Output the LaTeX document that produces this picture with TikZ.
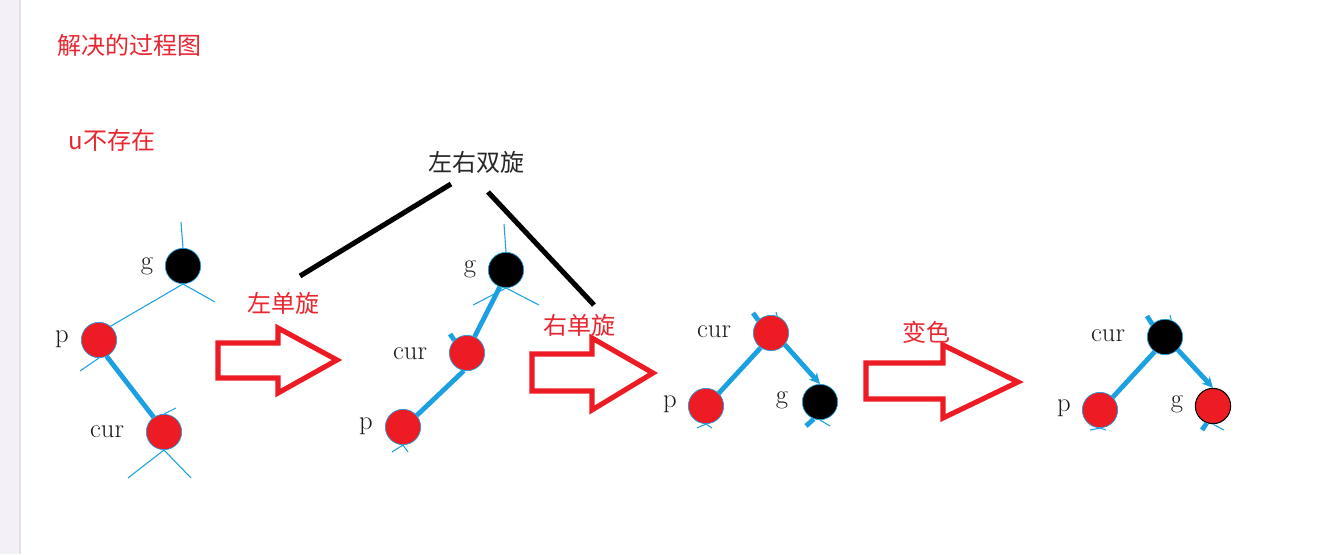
\documentclass[tikz,border=0pt]{standalone}
\usepackage{fontspec}
\newfontfamily\cjk{Noto Sans CJK SC}
\usetikzlibrary{arrows.meta}
\definecolor{tblue}{RGB}{27,161,226}
\definecolor{tred}{RGB}{237,28,36}
\definecolor{txtred}{RGB}{234,38,48}
\definecolor{lav}{RGB}{244,240,247}
\definecolor{lavline}{RGB}{228,222,234}
\begin{document}
\begin{tikzpicture}[x=0.75pt,y=-0.75pt,
  rnode/.style={circle, fill=tred, draw=tblue, line width=0.5pt, minimum size=26.5pt, inner sep=0pt},
  bnode/.style={circle, fill=black, draw=tblue, line width=0.5pt, minimum size=26.5pt, inner sep=0pt},
  rbnode/.style={circle, fill=tred, draw=black, line width=0.8pt, minimum size=26.5pt, inner sep=0pt},
  thinb/.style={draw=tblue, line width=0.8pt},
  thickb/.style={draw=tblue, line width=3.6pt},
  lab/.style={font=\fontsize{20}{22}\selectfont, text=black!90, inner sep=0pt},
  cjklab/.style={font=\cjk\fontsize{18}{21}\selectfont, inner sep=0pt},
  bigarrow/.style={draw=tred, line width=3.8pt, line join=miter},
  blackline/.style={draw=black, line width=3.8pt}
]
\useasboundingbox (0,0) rectangle (1322,554);
\fill[white] (0,0) rectangle (1322,554);
\fill[lav] (0,0) rectangle (20,554);
\draw[lavline, line width=0.8pt] (20,0) -- (20,554);

% titles
\node[cjklab, text=txtred] (title) at (129,45) {解决的过程图};
\node[cjklab, text=txtred] (unone) at (112,140) {u不存在};
\node[cjklab, text=black!85] (lrd) at (476,162) {左右双旋};

% ---------- tree 1 ----------
\node[bnode] (g1) at (183,266) {};
\node[rnode] (p1) at (99,340) {};
\node[rnode] (c1) at (164,432) {};
\node[lab] (g1l) at (147,266) {g};
\node[lab] (p1l) at (62,339) {p};
\node[lab] (c1l) at (107,432) {cur};
\coordinate (g1t) at (181,222);
\coordinate (g1r) at (215,302);
\coordinate (p1b) at (80,371);
\coordinate (c1t) at (176,408);
\coordinate (c1bl) at (128,478);
\coordinate (c1br) at (191,478);
\draw[thinb] (g1t) -- (g1.north);
\draw[thinb] (g1.south) -- (g1r);
\draw[thinb] (g1.south) -- (p1.50);
\draw[thinb] (p1.south) -- (p1b);
\draw[thickb] (p1.-65) -- (c1.125);
\draw[thinb] (c1.north) -- (c1t);
\draw[thinb] (c1.south) -- (c1bl);
\draw[thinb] (c1.south) -- (c1br);

% ---------- tree 2 ----------
\node[bnode] (g2) at (506,270) {};
\node[rnode] (c2) at (467,353) {};
\node[rnode] (p2) at (403,427) {};
\node[lab] (g2l) at (470,269) {g};
\node[lab] (c2l) at (410,354) {cur};
\node[lab] (p2l) at (366,426) {p};
\coordinate (g2t) at (504,224);
\coordinate (g2r) at (539,305);
\coordinate (g2ll) at (473,305);
\coordinate (c2s) at (450,334);
\coordinate (p2bl) at (392,452);
\coordinate (p2br) at (408,452);
\draw[thinb] (g2t) -- (g2.north);
\draw[thinb] (g2.south) -- (g2r);
\draw[thinb] (g2.south) -- (g2ll);
\draw[thickb] (g2.-110) -- (c2.65);
\draw[thickb] (c2s) -- (c2.135);
\draw[thickb] (c2.-100) -- (p2.40);
\draw[thinb] (p2.south) -- (p2bl);
\draw[thinb] (p2.south) -- (p2br);

% ---------- tree 3 ----------
\node[rnode] (c3) at (771,333) {};
\node[rnode] (p3) at (706,406) {};
\node[bnode] (g3) at (820,402) {};
\node[lab] (c3l) at (714,332) {cur};
\node[lab] (p3l) at (670,404) {p};
\node[lab] (g3l) at (782,400) {g};
\coordinate (c3s) at (753,313);
\coordinate (c3tr) at (776,312);
\coordinate (p3bl) at (697,428);
\coordinate (p3br) at (712,428);
\coordinate (g3bl) at (806,426);
\coordinate (g3br) at (830,426);
\draw[thickb] (c3s) -- (c3.135);
\draw[thinb] (c3.70) -- (c3tr);
\draw[thickb] (c3.-125) -- (p3.45);
\draw[thickb, -{Stealth[length=8pt,width=8pt]}] (c3.-40) -- (g3.north);
\draw[thinb] (p3.south) -- (p3bl);
\draw[thinb] (p3.south) -- (p3br);
\draw[thickb] (g3.-110) -- (g3bl);
\draw[thinb] (g3.south) -- (g3br);

% ---------- tree 4 ----------
\node[bnode] (c4) at (1165,337) {};
\node[rnode] (p4) at (1100,410) {};
\node[rbnode] (g4) at (1213,406) {};
\node[lab] (c4l) at (1108,336) {cur};
\node[lab] (p4l) at (1064,408) {p};
\node[lab] (g4l) at (1177,404) {g};
\coordinate (c4s) at (1147,316);
\coordinate (c4tr) at (1170,315);
\coordinate (p4bl) at (1090,430);
\coordinate (p4br) at (1106,430);
\coordinate (g4bl) at (1202,430);
\coordinate (g4br) at (1224,430);
\draw[thickb] (c4s) -- (c4.135);
\draw[thinb] (c4.70) -- (c4tr);
\draw[thickb] (c4.-125) -- (p4.45);
\draw[thickb, -{Stealth[length=8pt,width=8pt]}] (c4.-45) -- (g4.north);
\draw[thinb] (p4.south) -- (p4bl);
\draw[thinb] (p4.south) -- (p4br);
\draw[thickb] (g4.-110) -- (g4bl);
\draw[thinb] (g4.south) -- (g4br);

% ---------- black brace lines ----------
\coordinate (bl1) at (300,276);
\coordinate (bl2) at (451,184);
\coordinate (br1) at (488,192);
\coordinate (br2) at (594,305);
\draw[blackline] (bl1) -- (bl2);
\draw[blackline] (br1) -- (br2);

% ---------- block arrows ----------
\draw[bigarrow] (218,343) -- (278,343) -- (278,328) -- (337,360) -- (278,393) -- (278,378) -- (218,378) -- cycle;
\node[cjklab, text=txtred] (a1) at (283,303) {左单旋};
\draw[bigarrow] (532,354) -- (592,354) -- (592,338) -- (653,373) -- (592,410) -- (592,391) -- (532,391) -- cycle;
\node[cjklab, text=txtred] (a2) at (579,325) {右单旋};
\draw[bigarrow] (866,363) -- (943,363) -- (943,345) -- (1018,382) -- (943,418) -- (943,399) -- (866,399) -- cycle;
\node[cjklab, text=txtred] (a3) at (926,332) {变色};
\end{tikzpicture}
\end{document}
